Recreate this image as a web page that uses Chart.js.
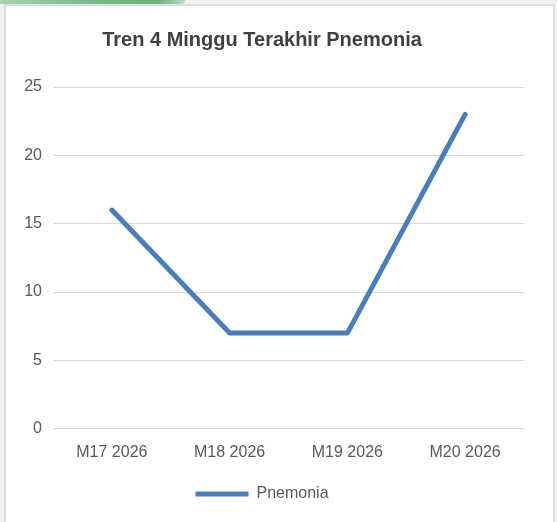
<!DOCTYPE html>
<html>
<head>
<meta charset="utf-8">
<script src="https://cdn.jsdelivr.net/npm/chart.js@4.4.0/dist/chart.umd.min.js"></script>
<style>
  html, body { margin: 0; padding: 0; background: #f1f1f1; }
  #wrap { position: relative; width: 557px; height: 522px; overflow: hidden; }
  #strip { position: absolute; left: 0; top: 0; width: 185px; height: 4px;
           background: linear-gradient(90deg, #a9d3b4 0%, #79b98b 50%, #6db07f 85%, #b9dcc2 100%);
           border-radius: 0 0 60px 0; }
  #card { position: absolute; left: 4px; top: 4px; width: 547px; height: 530px;
          background: #fff; border: 2px solid #dedede; }
  #chart { position: absolute; left: 0; top: 0; }
</style>
</head>
<body>
<div id="wrap">
  <div id="strip"></div>
  <div id="card"></div>
  <canvas id="chart" width="557" height="522"></canvas>
</div>
<script>
// Tren 4 minggu terakhir - Pnemonia
const weeks = ["M17 2026", "M18 2026", "M19 2026", "M20 2026"];
const pnemonia = [16, 7, 7, 23];
const yTicks = [0, 5, 10, 15, 20, 25];

const FONT = "'Liberation Sans', Arial, Helvetica, sans-serif";

new Chart(document.getElementById("chart"), {
    type: "line",
    data: {
        labels: weeks,
        datasets: [{
            label: "Pnemonia",
            data: pnemonia,
            borderColor: "#4a7ebb",
            backgroundColor: "#4a7ebb",
            borderWidth: 5,
            borderCapStyle: "round",
            borderJoinStyle: "round",
            pointRadius: 0,
            tension: 0
        }]
    },
    options: {
        responsive: false,
        animation: false,
        layout: { padding: { left: 0, right: 33, top: 0, bottom: 10 } },
        plugins: {
            title: {
                display: true,
                text: "Tren 4 Minggu Terakhir Pnemonia",
                color: "#404040",
                font: { family: FONT, size: 20, weight: "bold" },
                padding: { top: 28, bottom: 35 }
            },
            legend: {
                position: "bottom",
                labels: {
                    usePointStyle: true,
                    pointStyle: "line",
                    pointStyleWidth: 53,
                    color: "#595959",
                    font: { family: FONT, size: 16 },
                    padding: 10
                }
            },
            tooltip: { enabled: false }
        },
        scales: {
            x: {
                offset: true,
                grid: { display: false, drawTicks: false },
                border: { display: false },
                ticks: { color: "#595959", font: { family: FONT, size: 16 }, padding: 14 }
            },
            y: {
                min: 0,
                max: 25,
                afterFit: s => { s.width = 53; },
                afterBuildTicks: s => { s.ticks = yTicks.map(v => ({ value: v })); },
                grid: { color: "#d9d9d9", lineWidth: 1, drawTicks: false },
                border: { display: false },
                ticks: { color: "#595959", font: { family: FONT, size: 16 }, padding: 11 }
            }
        }
    }
});
</script>
</body>
</html>
